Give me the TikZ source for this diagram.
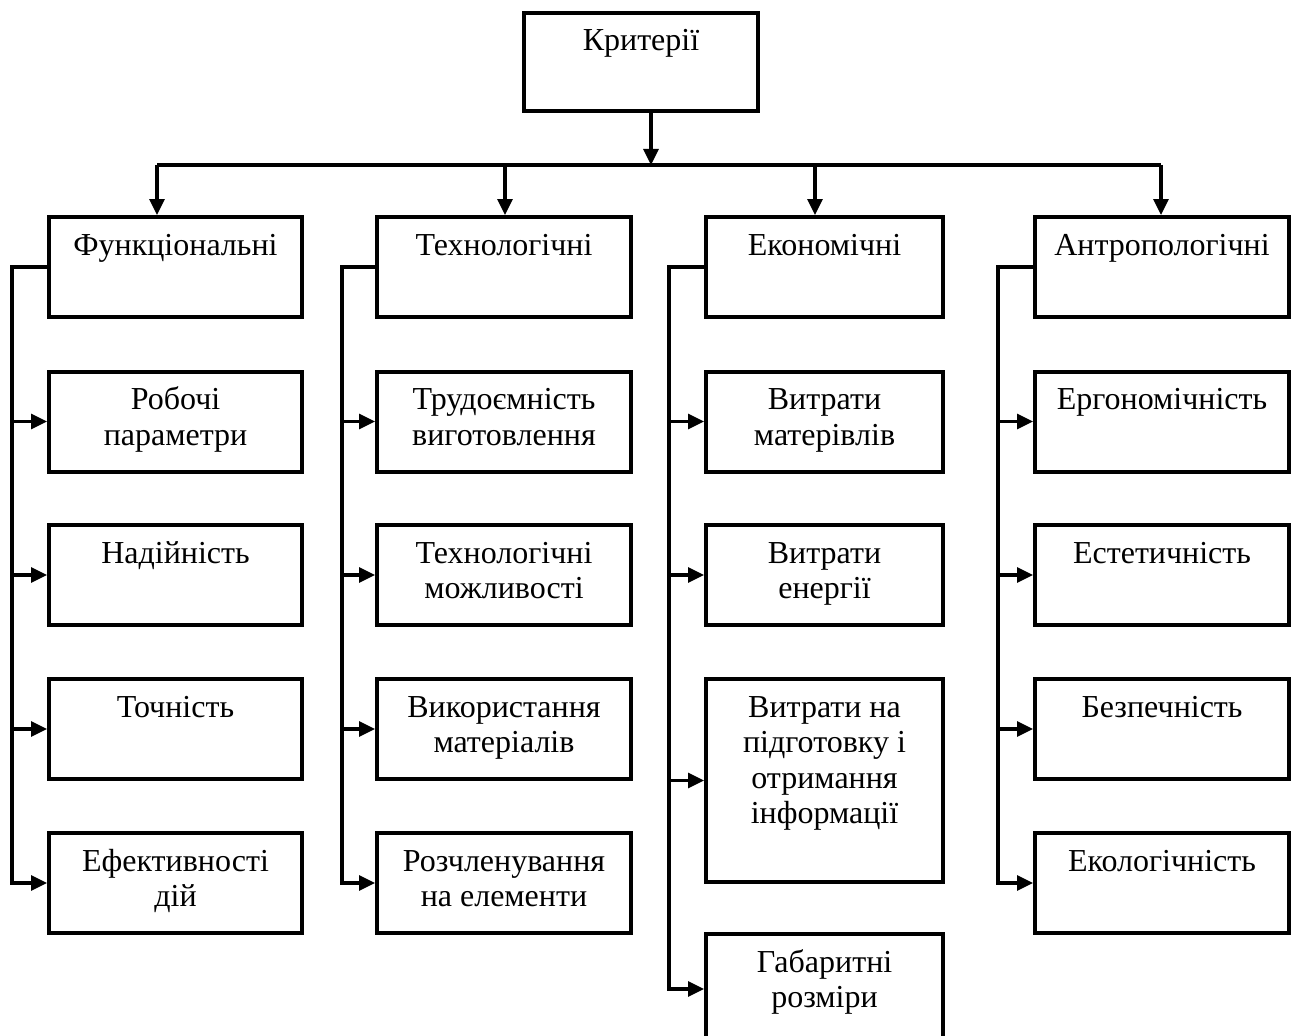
\documentclass[tikz,border=0pt]{standalone}
\usepackage{fontspec}
\setmainfont{Liberation Serif}
\usetikzlibrary{arrows.meta}
\newcommand\mlines[1]{\begin{tabular}[t]{@{}c@{}}#1\end{tabular}}
\begin{document}
\begin{tikzpicture}[x=1pt,y=-1pt,
  box/.style={draw, line width=4pt, inner sep=0pt, minimum height=100pt},
  conn/.style={line width=3.2pt},
  arr/.style={conn, -{Triangle[length=16pt,width=15pt]}},
  lbl/.style={anchor=base, inner sep=0pt, font=\fontsize{32}{35.5}\selectfont}]
\path[use as bounding box, clip] (0,0) rectangle (1297,1035);
% top
\node[box, minimum width=234pt, minimum height=98pt] (crit) at (641,62) {};
\node[lbl] (tcrit) at ([yshift=-40pt]crit.north) {Критерії};
% level 2
\node[box, minimum width=253pt] (f) at (175.5,267) {};
\node[box, minimum width=254pt] (t) at (504,267) {};
\node[box, minimum width=237pt] (e) at (824.5,267) {};
\node[box, minimum width=254pt] (a) at (1162,267) {};
\node[lbl] (tf) at ([yshift=-40pt]f.north) {Функціональні};
\node[lbl] (tt) at ([yshift=-40pt]t.north) {Технологічні};
\node[lbl] (te) at ([yshift=-40pt]e.north) {Економічні};
\node[lbl] (ta) at ([yshift=-40pt]a.north) {Антропологічні};
% column 1
\node[box, minimum width=253pt] (f1) at (175.5,421.5) {};
\node[box, minimum width=253pt] (f2) at (175.5,575) {};
\node[box, minimum width=253pt] (f3) at (175.5,729) {};
\node[box, minimum width=253pt] (f4) at (175.5,883) {};
\node[lbl] (tf1) at ([yshift=-40pt]f1.north) {\mlines{Робочі\\параметри}};
\node[lbl] (tf2) at ([yshift=-40pt]f2.north) {Надійність};
\node[lbl] (tf3) at ([yshift=-40pt]f3.north) {Точність};
\node[lbl] (tf4) at ([yshift=-40pt]f4.north) {\mlines{Ефективності\\дій}};
% column 2
\node[box, minimum width=254pt] (t1) at (504,421.5) {};
\node[box, minimum width=254pt] (t2) at (504,575) {};
\node[box, minimum width=254pt] (t3) at (504,729) {};
\node[box, minimum width=254pt] (t4) at (504,883) {};
\node[lbl] (tt1) at ([yshift=-40pt]t1.north) {\mlines{Трудоємність\\виготовлення}};
\node[lbl] (tt2) at ([yshift=-40pt]t2.north) {\mlines{Технологічні\\можливості}};
\node[lbl] (tt3) at ([yshift=-40pt]t3.north) {\mlines{Використання\\матеріалів}};
\node[lbl] (tt4) at ([yshift=-40pt]t4.north) {\mlines{Розчленування\\на елементи}};
% column 3
\node[box, minimum width=237pt] (e1) at (824.5,421.5) {};
\node[box, minimum width=237pt] (e2) at (824.5,575) {};
\node[box, minimum width=237pt, minimum height=203pt] (e3) at (824.5,780.5) {};
\node[box, minimum width=237pt, minimum height=110pt] (e4) at (824.5,989) {};
\node[lbl] (te1) at ([yshift=-40pt]e1.north) {\mlines{Витрати\\матерівлів}};
\node[lbl] (te2) at ([yshift=-40pt]e2.north) {\mlines{Витрати\\енергії}};
\node[lbl] (te3) at ([yshift=-40pt]e3.north) {\mlines{Витрати на\\підготовку і\\отримання\\інформації}};
\node[lbl] (te4) at ([yshift=-40pt]e4.north) {\mlines{Габаритні\\розміри}};
% column 4
\node[box, minimum width=254pt] (a1) at (1162,421.5) {};
\node[box, minimum width=254pt] (a2) at (1162,575) {};
\node[box, minimum width=254pt] (a3) at (1162,729) {};
\node[box, minimum width=254pt] (a4) at (1162,883) {};
\node[lbl] (ta1) at ([yshift=-40pt]a1.north) {Ергономічність};
\node[lbl] (ta2) at ([yshift=-40pt]a2.north) {Естетичність};
\node[lbl] (ta3) at ([yshift=-40pt]a3.north) {Безпечність};
\node[lbl] (ta4) at ([yshift=-40pt]a4.north) {Екологічність};
% distribution bar
\coordinate (j0) at (651,165);
\coordinate (b1) at (157,165);
\coordinate (b2) at (505,165);
\coordinate (b3) at (815,165);
\coordinate (b4) at (1161,165);
\draw[arr] (j0 |- crit.south) -- (j0);
\draw[conn] (b1) -- (b4);
\draw[arr] (b1) -- (b1 |- f.north);
\draw[arr] (b2) -- (b2 |- t.north);
\draw[arr] (b3) -- (b3 |- e.north);
\draw[arr] (b4) -- (b4 |- a.north);
% side rails
\coordinate (v1) at (12,0);
\coordinate (v2) at (342,0);
\coordinate (v3) at (669,0);
\coordinate (v4) at (998,0);
\draw[arr] (f.west) -- (f.west -| v1) |- (f4.west);
\draw[arr] (v1 |- f1.west) -- (f1.west);
\draw[arr] (v1 |- f2.west) -- (f2.west);
\draw[arr] (v1 |- f3.west) -- (f3.west);
\draw[arr] (t.west) -- (t.west -| v2) |- (t4.west);
\draw[arr] (v2 |- t1.west) -- (t1.west);
\draw[arr] (v2 |- t2.west) -- (t2.west);
\draw[arr] (v2 |- t3.west) -- (t3.west);
\draw[arr] (e.west) -- (e.west -| v3) |- (e4.west);
\draw[arr] (v3 |- e1.west) -- (e1.west);
\draw[arr] (v3 |- e2.west) -- (e2.west);
\draw[arr] (v3 |- e3.west) -- (e3.west);
\draw[arr] (a.west) -- (a.west -| v4) |- (a4.west);
\draw[arr] (v4 |- a1.west) -- (a1.west);
\draw[arr] (v4 |- a2.west) -- (a2.west);
\draw[arr] (v4 |- a3.west) -- (a3.west);
\end{tikzpicture}
\end{document}
